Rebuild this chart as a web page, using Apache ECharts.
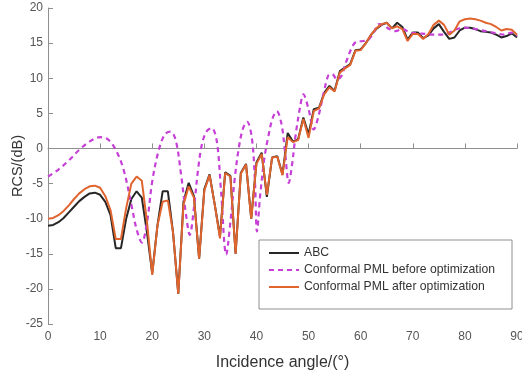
<!DOCTYPE html>
<html>
<head>
<meta charset="utf-8">
<script src="https://cdn.jsdelivr.net/npm/echarts@6/dist/echarts.min.js"></script>
<style>html,body{margin:0;padding:0;background:#fff}#c{width:522px;height:375px}</style>
</head>
<body>
<div id="c"></div>
<script>
const angles = [];
for (let a = 0; a <= 90; a++) angles.push(a);
const abc = [-11.0,-10.9,-10.5,-9.9,-9.1,-8.3,-7.5,-6.9,-6.4,-6.3,
 -6.6,-7.6,-9.5,-14.2,-14.2,-10.0,-7.2,-6.1,-7.0,-12.0,
 -17.8,-11.0,-6.1,-6.1,-12.0,-20.7,-7.6,-4.9,-6.8,-15.7,
 -5.8,-3.7,-8.0,-12.5,-3.4,-3.9,-15.0,-3.5,-2.2,-10.0,
 -2.0,-0.6,-6.9,-1.3,-1.1,-3.7,2.2,1.0,1.3,4.4,
 2.0,5.6,5.8,7.9,8.9,8.2,11.0,11.5,12.0,14.0,
 14.1,15.0,16.2,17.0,17.6,17.9,17.1,17.9,17.3,15.5,
 16.5,16.5,15.7,16.1,17.1,17.7,16.6,15.6,15.8,16.8,
 17.2,17.2,17.0,16.7,16.6,16.5,16.2,15.8,16.0,16.4,15.8];
const pmlAfter = [-10.0,-9.9,-9.5,-8.9,-8.1,-7.2,-6.4,-5.8,-5.4,-5.3,
 -5.6,-6.8,-8.8,-12.9,-12.9,-8.5,-5.0,-4.0,-4.6,-10.5,
 -18.0,-11.0,-7.6,-7.4,-12.0,-20.7,-8.0,-5.4,-7.0,-15.7,
 -6.0,-3.8,-8.0,-12.8,-3.5,-4.0,-15.0,-3.6,-2.3,-10.0,
 -2.2,-0.8,-6.6,-1.3,-1.2,-3.8,1.6,0.9,1.2,4.2,
 1.5,5.3,5.7,7.7,8.7,8.1,10.8,11.4,11.9,13.9,
 14.0,15.0,16.2,17.1,17.7,17.9,17.1,17.4,17.0,15.3,
 16.3,16.3,15.6,16.3,17.6,18.2,17.6,16.2,16.8,18.1,
 18.4,18.5,18.4,18.2,17.9,17.7,17.3,16.8,17.0,16.9,16.2];
const beforeAngles = [0,2,4,6,8,10,11.5,13,14.5,16,17,18,19,20,21.2,22.4,23.5,24.5,25.5,26.5,27.2,28,28.8,29.6,30.5,31.4,32.4,33.2,34.2,35,35.8,36.6,37.4,38.2,39.1,39.7,40.1,40.7,41.5,42.3,43.1,43.9,44.8,45.5,46.2,46.8,47.5,48.4,49,50,51,51.9,52.9,53.8,54.5,55.5,56.3,57.2,58.4,59.2,60.5,61.5,62.5,63.5,64.5,65.5,66.7,68,69.5,71,72.5,74,75.5,77,78.5,80,82,84,86,87.5,89,90];
const pmlBefore = [-4.0,-3.0,-1.7,-0.2,1.0,1.6,1.3,-0.2,-3.0,-8.0,-11.5,-13.4,-10.5,-4.7,-0.4,2.0,2.4,1.2,-3.5,-9.5,-12.3,-8.5,-3.0,0.8,2.5,2.9,1.0,-6.0,-15.1,-10.5,-4.5,0.0,2.8,3.8,1.6,-4.5,-11.8,-6.8,-1.5,1.8,4.3,5.3,3.5,-0.6,-4.9,-2.5,1.8,6.0,7.7,5.6,2.7,4.6,7.9,10.4,10.6,9.8,10.3,12.3,14.5,15.2,15.3,15.5,16.5,17.7,17.5,17.0,16.7,17.0,16.5,16.4,16.3,16.2,16.2,16.5,17.0,17.2,17.0,16.7,16.4,16.2,16.5,16.0];
const xTicks = {min: 0, max: 90, interval: 10};
const yTicks = {min: -25, max: 20, interval: 5};
const names = ['ABC', 'Conformal PML before optimization', 'Conformal PML after optimization'];

const chart = echarts.init(document.getElementById('c'));
const font = 'Liberation Sans, Arial, sans-serif';
const axisCommon = {
  axisLine: {show: true, lineStyle: {color: '#8f8f8f', width: 1}},
  axisTick: {show: true, inside: true, length: 5, lineStyle: {color: '#8f8f8f'}},
  splitLine: {show: false}
};
chart.setOption({
  animation: false,
  grid: {left: 48, right: 5, top: 8, bottom: 51, containLabel: false, outerBoundsMode: 'none'},
  xAxis: Object.assign({
    type: 'value', min: xTicks.min, max: xTicks.max, interval: xTicks.interval,
    name: 'Incidence angle/(°)', nameLocation: 'middle', nameGap: 31,
    nameTextStyle: {color: '#333', fontSize: 16, fontFamily: font},
    axisLabel: {color: '#555', fontSize: 12, fontFamily: font, margin: 7}
  }, axisCommon),
  yAxis: Object.assign({
    type: 'value', min: yTicks.min, max: yTicks.max, interval: yTicks.interval,
    name: 'RCS/(dB)', nameLocation: 'middle', nameGap: 23, nameMoveOverlap: false,
    nameTextStyle: {color: '#333', fontSize: 14.5, fontFamily: font},
    axisLabel: {color: '#555', fontSize: 12, fontFamily: font, margin: 5}
  }, axisCommon),
  legend: {
    orient: 'vertical', left: 259, top: 240,
    padding: [7, 17, 16, 9], itemGap: 5, itemWidth: 30, itemHeight: 14,
    backgroundColor: '#fff', borderColor: '#8f8f8f', borderWidth: 1,
    itemStyle: {opacity: 0},
    textStyle: {color: '#333', fontSize: 12.2, fontFamily: font},
    data: names
  },
  series: [
    {name: names[0], type: 'line', symbol: 'none', z: 2,
     data: angles.map((a, i) => [a, abc[i]]),
     lineStyle: {color: '#262626', width: 2}, itemStyle: {color: '#262626'}},
    {name: names[1], type: 'line', symbol: 'none', smooth: 0.35, z: 3,
     data: beforeAngles.map((a, i) => [a, pmlBefore[i]]),
     lineStyle: {color: '#c63fd6', width: 2.2, type: [5, 4]}, itemStyle: {color: '#c63fd6'}},
    {name: names[2], type: 'line', symbol: 'none', z: 4,
     data: angles.map((a, i) => [a, pmlAfter[i]]),
     lineStyle: {color: '#e0642e', width: 2}, itemStyle: {color: '#e0642e'}}
  ]
});
</script>
</body>
</html>
